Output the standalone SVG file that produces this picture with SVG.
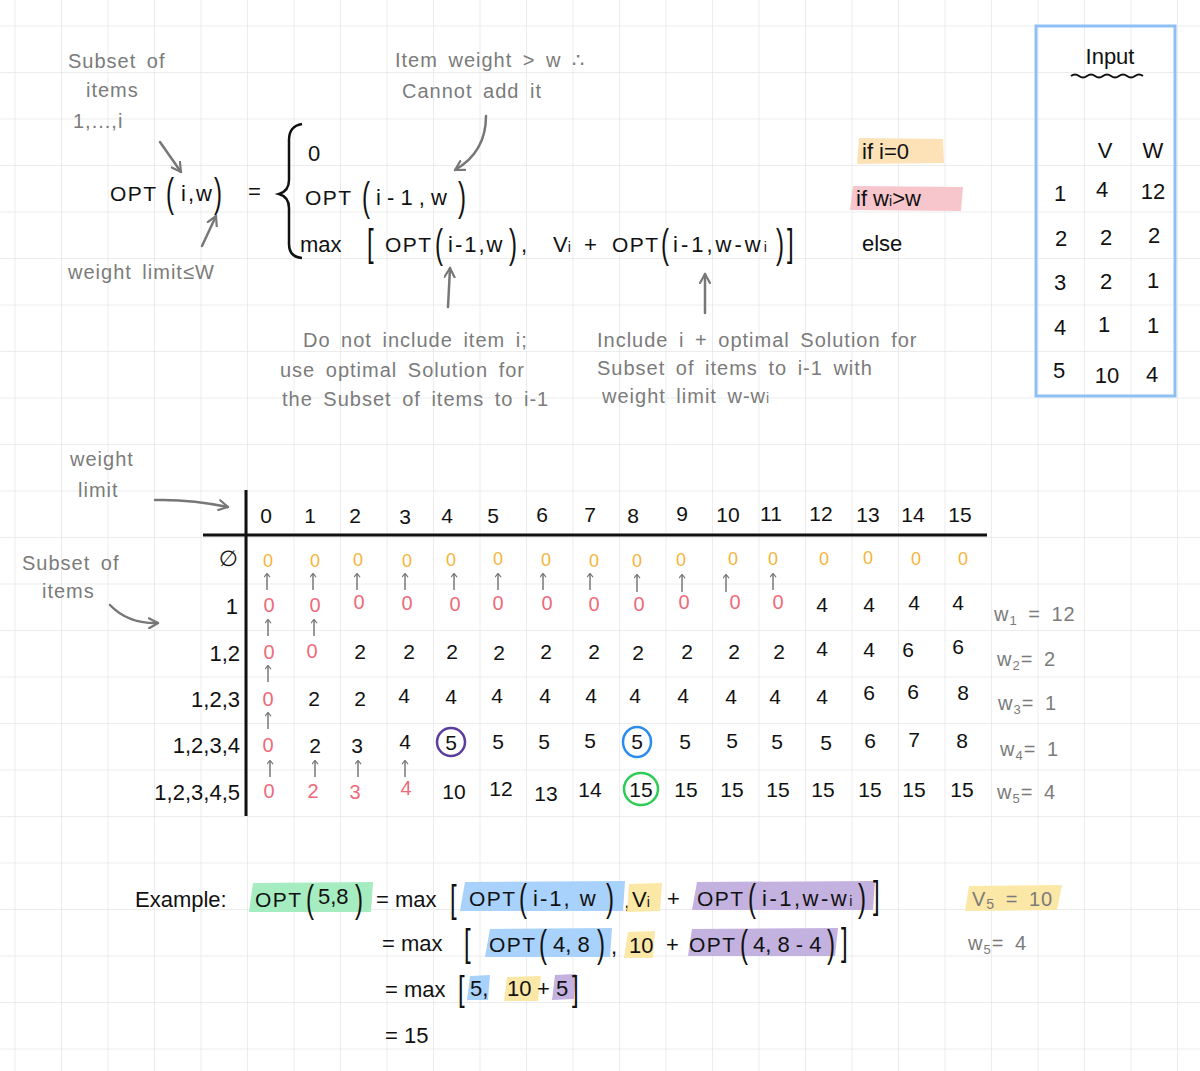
<svg xmlns="http://www.w3.org/2000/svg" width="1200" height="1071" viewBox="0 0 1200 1071">
<defs>
<pattern id="grid" x="14.5" y="25.5" width="46.5" height="46.5" patternUnits="userSpaceOnUse">
<path d="M0,0 H46.5 M0,0 V46.5" stroke="#e6e6e6" stroke-width="1.5" fill="none"/>
</pattern>
<marker id="ah" viewBox="0 0 12 12" refX="10" refY="6" markerWidth="12" markerHeight="12" markerUnits="userSpaceOnUse" orient="auto">
<path d="M1,1 L10,6 L1,11" fill="none" stroke="#777" stroke-width="2.2" stroke-linecap="round" stroke-linejoin="round"/>
</marker>
<marker id="sh" viewBox="0 0 10 10" refX="5" refY="2" markerWidth="7" markerHeight="7" markerUnits="userSpaceOnUse" orient="0">
<path d="M1,6 L5,1 L9,6" fill="none" stroke="#777" stroke-width="1.6" stroke-linecap="round"/>
</marker>
<style>
text{font-family:"Liberation Sans","DejaVu Sans",sans-serif;}
.k{fill:#111;font-size:22px;}
.p{fill:#111;font-size:24px;}
.g{fill:#7b7b7b;font-size:20px;letter-spacing:1px;word-spacing:4px;}
.o{fill:#f5b43a;font-size:18px;text-anchor:middle;}
.r{fill:#ee6b7b;font-size:20px;text-anchor:middle;}
.n{fill:#111;font-size:21px;text-anchor:middle;}
.lab{fill:#111;font-size:22px;text-anchor:end;}
.arr{stroke:#777;stroke-width:2.5;fill:none;stroke-linecap:round;marker-end:url(#ah);}
.sa{stroke:#777;stroke-width:1.5;fill:none;marker-end:url(#sh);}
.opt{letter-spacing:1.5px;font-size:21px;}
.sp{letter-spacing:2px;}
</style>
</defs>
<rect width="1200" height="1071" fill="#fff"/>
<rect width="1200" height="1071" fill="url(#grid)"/>

<g id="formula">
<text class="k opt" x="110" y="201">OPT</text>
<text class="p" transform="translate(166,207) scale(1,1.7)">(</text>
<text class="k sp" x="181" y="201">i,w</text>
<text class="p" transform="translate(214,207) scale(1,1.7)">)</text>
<text class="k" x="248" y="199">=</text>
<path d="M302,124 Q289,126 289,140 L289,180 Q289,191 279,194 Q289,197 289,208 L289,244 Q289,257 302,258" stroke="#111" stroke-width="2.5" fill="none"/>
<text class="k" x="308" y="161">0</text>
<text class="k opt" x="305" y="205">OPT</text>
<text class="p" transform="translate(362,211) scale(1,1.7)">(</text>
<text class="k" x="376" y="205">i - 1 , w</text>
<text class="p" transform="translate(458,211) scale(1,1.7)">)</text>
<text class="k" x="300" y="252">max</text>
<text class="p" transform="translate(367,256) scale(1,1.6)">[</text>
<text class="k opt" x="385" y="252">OPT</text>
<text class="p" transform="translate(435,258) scale(1,1.7)">(</text>
<text class="k sp" x="448" y="252">i-1,w</text>
<text class="p" transform="translate(509,258) scale(1,1.7)">)</text>
<text class="k" x="521" y="252">,</text>
<text class="k" x="553" y="252">V<tspan font-size="14">i</tspan></text>
<text class="k" x="584" y="252">+</text>
<text class="k opt" x="612" y="252">OPT</text>
<text class="p" transform="translate(661,258) scale(1,1.7)">(</text>
<text class="k" x="673" y="252" letter-spacing="3">i-1,w-w<tspan font-size="14">i</tspan></text>
<text class="p" transform="translate(776,258) scale(1,1.7)">)</text>
<text class="p" transform="translate(787,256) scale(1,1.6)">]</text>
<polygon points="859,138 943,139 944,163 857,164" fill="#fde2b8"/>
<text class="k" x="862" y="159">if  i=0</text>
<polygon points="853,186 963,187 961,211 850,210" fill="#f7c5cc"/>
<text class="k" x="856" y="206">if w<tspan font-size="14">i</tspan>&gt;w</text>
<text class="k" x="862" y="251">else</text>
</g>

<g id="annotations">
<text class="g" x="68" y="68">Subset of</text>
<text class="g" x="86" y="97">items</text>
<text class="g" x="73" y="128">1,...,i</text>
<text class="g" x="68" y="279">weight  limit≤W</text>
<text class="g" x="395" y="67">Item weight &gt; w ∴</text>
<text class="g" x="402" y="98">Cannot  add it</text>
<text class="g" x="303" y="347">Do not include item i;</text>
<text class="g" x="280" y="377">use optimal Solution for</text>
<text class="g" x="282" y="406">the Subset of items to i-1</text>
<text class="g" x="597" y="347">Include i  +  optimal  Solution  for</text>
<text class="g" x="597" y="375">Subset of  items  to  i-1  with</text>
<text class="g" x="602" y="403">weight limit  w-w<tspan font-size="14">i</tspan></text>
<text class="g" x="70" y="466">weight</text>
<text class="g" x="78" y="497">limit</text>
<text class="g" x="22" y="570">Subset of</text>
<text class="g" x="42" y="598">items</text>
</g>

<g id="connectors">
<path class="arr" d="M160,142 L181,172"/>
<path class="arr" d="M202,246 L216,216"/>
<path class="arr" d="M486,116 Q486,152 455,170"/>
<path class="arr" d="M448,307 L450,268"/>
<path class="arr" d="M705,313 L705,274"/>
<path class="arr" d="M155,500 Q190,499 228,507"/>
<path class="arr" d="M110,605 Q128,624 158,623"/>
<g id="table-arrows">
<path class="sa" d="M267,590 V574"/><path class="sa" d="M313,590 V574"/><path class="sa" d="M357,590 V574"/><path class="sa" d="M405,590 V574"/><path class="sa" d="M454,590 V574"/><path class="sa" d="M498,590 V574"/><path class="sa" d="M543,590 V574"/><path class="sa" d="M590,590 V574"/><path class="sa" d="M637,592 V575"/><path class="sa" d="M682,592 V575"/><path class="sa" d="M726,592 V575"/><path class="sa" d="M773,590 V574"/>
<path class="sa" d="M268,636 V620"/><path class="sa" d="M314,636 V620"/>
<path class="sa" d="M268,682 V666"/>
<path class="sa" d="M268,729 V713"/>
<path class="sa" d="M270,777 V761"/><path class="sa" d="M315,777 V761"/><path class="sa" d="M358,777 V761"/><path class="sa" d="M405,777 V761"/>
</g>
</g>

<g id="table">
<path d="M246,490 V816 M203,535 H987" stroke="#111" stroke-width="3" fill="none"/>
<g id="header">
<text class="n" x="266" y="523">0</text><text class="n" x="310" y="523">1</text><text class="n" x="355" y="523">2</text><text class="n" x="405" y="524">3</text><text class="n" x="447" y="523">4</text><text class="n" x="493" y="523">5</text><text class="n" x="542" y="522">6</text><text class="n" x="590" y="522">7</text><text class="n" x="633" y="523">8</text><text class="n" x="682" y="521">9</text><text class="n" x="728" y="522">10</text><text class="n" x="771" y="521">11</text><text class="n" x="821" y="521">12</text><text class="n" x="868" y="522">13</text><text class="n" x="913" y="522">14</text><text class="n" x="960" y="522">15</text>
</g>
<g id="row-labels">
<text class="lab" x="238" y="566">∅</text>
<text class="lab" x="238" y="614">1</text>
<text class="lab" x="240" y="661">1,2</text>
<text class="lab" x="240" y="707">1,2,3</text>
<text class="lab" x="240" y="753">1,2,3,4</text>
<text class="lab" x="240" y="800">1,2,3,4,5</text>
</g>
<g id="row0">
<text class="o" x="268" y="567">0</text><text class="o" x="315" y="567">0</text><text class="o" x="358" y="566">0</text><text class="o" x="407" y="567">0</text><text class="o" x="451" y="566">0</text><text class="o" x="498" y="565">0</text><text class="o" x="546" y="566">0</text><text class="o" x="594" y="567">0</text><text class="o" x="637" y="567">0</text><text class="o" x="681" y="566">0</text><text class="o" x="733" y="565">0</text><text class="o" x="773" y="565">0</text><text class="o" x="824" y="565">0</text><text class="o" x="868" y="564">0</text><text class="o" x="916" y="565">0</text><text class="o" x="963" y="565">0</text>
</g>
<g id="row1">
<text class="r" x="269" y="612">0</text><text class="r" x="315" y="612">0</text><text class="r" x="359" y="609">0</text><text class="r" x="407" y="610">0</text><text class="r" x="455" y="611">0</text><text class="r" x="498" y="610">0</text><text class="r" x="547" y="610">0</text><text class="r" x="594" y="611">0</text><text class="r" x="639" y="611">0</text><text class="r" x="684" y="609">0</text><text class="r" x="735" y="609">0</text><text class="r" x="778" y="609">0</text>
<text class="n" x="822" y="612">4</text><text class="n" x="869" y="612">4</text><text class="n" x="914" y="610">4</text><text class="n" x="958" y="610">4</text>
</g>
<g id="row2">
<text class="r" x="269" y="659">0</text><text class="r" x="312" y="658">0</text>
<text class="n" x="360" y="659">2</text><text class="n" x="409" y="659">2</text><text class="n" x="452" y="659">2</text><text class="n" x="499" y="660">2</text><text class="n" x="546" y="659">2</text><text class="n" x="594" y="659">2</text><text class="n" x="638" y="660">2</text><text class="n" x="687" y="659">2</text><text class="n" x="734" y="659">2</text><text class="n" x="779" y="659">2</text><text class="n" x="822" y="656">4</text><text class="n" x="869" y="657">4</text><text class="n" x="908" y="657">6</text><text class="n" x="958" y="654">6</text>
</g>
<g id="row3">
<text class="r" x="268" y="706">0</text>
<text class="n" x="314" y="706">2</text><text class="n" x="360" y="706">2</text><text class="n" x="404" y="703">4</text><text class="n" x="451" y="704">4</text><text class="n" x="497" y="703">4</text><text class="n" x="545" y="703">4</text><text class="n" x="591" y="703">4</text><text class="n" x="635" y="703">4</text><text class="n" x="683" y="703">4</text><text class="n" x="731" y="704">4</text><text class="n" x="775" y="704">4</text><text class="n" x="822" y="704">4</text><text class="n" x="869" y="700">6</text><text class="n" x="913" y="699">6</text><text class="n" x="963" y="700">8</text>
</g>
<g id="row4">
<text class="r" x="268" y="752">0</text>
<text class="n" x="315" y="753">2</text><text class="n" x="357" y="753">3</text><text class="n" x="405" y="749">4</text><text class="n" x="451" y="750">5</text><text class="n" x="498" y="749">5</text><text class="n" x="544" y="749">5</text><text class="n" x="590" y="748">5</text><text class="n" x="637" y="749">5</text><text class="n" x="685" y="749">5</text><text class="n" x="732" y="748">5</text><text class="n" x="777" y="749">5</text><text class="n" x="826" y="750">5</text><text class="n" x="870" y="748">6</text><text class="n" x="914" y="747">7</text><text class="n" x="962" y="748">8</text>
<ellipse cx="451" cy="742" rx="14" ry="14" fill="none" stroke="#5a3d9e" stroke-width="2.5"/>
<ellipse cx="637" cy="742" rx="14" ry="15" fill="none" stroke="#2b8cee" stroke-width="2.5"/>
</g>
<g id="row5">
<text class="r" x="269" y="798">0</text><text class="r" x="313" y="798">2</text><text class="r" x="355" y="799">3</text><text class="r" x="406" y="795">4</text>
<text class="n" x="454" y="799">10</text><text class="n" x="501" y="796">12</text><text class="n" x="546" y="801">13</text><text class="n" x="590" y="797">14</text><text class="n" x="641" y="797">15</text><text class="n" x="686" y="797">15</text><text class="n" x="732" y="797">15</text><text class="n" x="778" y="797">15</text><text class="n" x="823" y="797">15</text><text class="n" x="870" y="797">15</text><text class="n" x="914" y="797">15</text><text class="n" x="962" y="797">15</text>
<ellipse cx="641" cy="789" rx="17" ry="16" fill="none" stroke="#2ecc55" stroke-width="2.5"/>
</g>
<g id="weights">
<text class="g" x="994" y="621">w<tspan font-size="13" dy="4">1</tspan><tspan dy="-4"> = 12</tspan></text>
<text class="g" x="997" y="666">w<tspan font-size="13" dy="4">2</tspan><tspan dy="-4">=  2</tspan></text>
<text class="g" x="998" y="710">w<tspan font-size="13" dy="4">3</tspan><tspan dy="-4">=  1</tspan></text>
<text class="g" x="1000" y="756">w<tspan font-size="13" dy="4">4</tspan><tspan dy="-4">=  1</tspan></text>
<text class="g" x="997" y="799">w<tspan font-size="13" dy="4">5</tspan><tspan dy="-4">=  4</tspan></text>
</g>
</g>

<g id="input">
<rect x="1036" y="26" width="139" height="370" fill="none" stroke="#8ec0f5" stroke-width="3"/>
<text class="k" x="1110" y="64" text-anchor="middle" font-size="20">Input</text>
<path d="M1071,76 q4,-3 8,0 t8,0 t8,0 t8,0 t8,0 t8,0 t8,0 t8,0 t8,0" stroke="#111" stroke-width="2" fill="none"/>
<g text-anchor="middle" class="k">
<text x="1105" y="158">V</text><text x="1153" y="158">W</text>
<text x="1060" y="201">1</text><text x="1102" y="197">4</text><text x="1153" y="199">12</text>
<text x="1061" y="246">2</text><text x="1106" y="245">2</text><text x="1154" y="243">2</text>
<text x="1060" y="290">3</text><text x="1106" y="289">2</text><text x="1153" y="288">1</text>
<text x="1060" y="335">4</text><text x="1104" y="332">1</text><text x="1153" y="333">1</text>
<text x="1059" y="378">5</text><text x="1107" y="383">10</text><text x="1152" y="382">4</text>
</g>
</g>

<g id="example">
<text class="k" x="135" y="907">Example:</text>
<polygon points="253,883 373,882 371,912 249,912" fill="#a6ecc1"/>
<text class="k opt" x="255" y="907">OPT</text>
<text class="p" transform="translate(306,912) scale(1,1.6)">(</text>
<text class="k" x="318" y="904">5,8</text>
<text class="p" transform="translate(355,912) scale(1,1.6)">)</text>
<text class="k" x="376" y="907">= max</text>
<text class="p" transform="translate(450,912) scale(1,1.6)">[</text>
<polygon points="465,882 625,881 623,911 460,911" fill="#a8d2fb"/>
<text class="k opt" x="469" y="906">OPT</text>
<text class="p" transform="translate(519,911) scale(1,1.6)">(</text>
<text class="k" x="533" y="906" letter-spacing="2">i-1, w</text>
<text class="p" transform="translate(606,911) scale(1,1.6)">)</text>
<text class="k" x="624" y="908">,</text>
<polygon points="629,884 662,883 660,911 627,912" fill="#fbe7a6"/>
<text class="k" x="632" y="907">V<tspan font-size="14">i</tspan></text>
<text class="k" x="667" y="906">+</text>
<polygon points="697,882 875,881 873,910 692,910" fill="#c3b1e0"/>
<text class="k opt" x="697" y="906">OPT</text>
<text class="p" transform="translate(748,911) scale(1,1.6)">(</text>
<text class="k" x="762" y="906" letter-spacing="2.5">i-1,w-w<tspan font-size="14">i</tspan></text>
<text class="p" transform="translate(858,911) scale(1,1.6)">)</text>
<text class="p" transform="translate(873,908) scale(1,1.6)">]</text>

<text class="k" x="382" y="951">= max</text>
<text class="p" transform="translate(464,956) scale(1,1.6)">[</text>
<polygon points="490,929 612,928 610,957 485,957" fill="#a8d2fb"/>
<text class="k opt" x="489" y="952">OPT</text>
<text class="p" transform="translate(539,957) scale(1,1.6)">(</text>
<text class="k" x="553" y="952">4, 8</text>
<text class="p" transform="translate(597,957) scale(1,1.6)">)</text>
<text class="k" x="611" y="954">,</text>
<polygon points="628,932 655,931 653,958 624,958" fill="#fbe7a6"/>
<text class="k" x="629" y="953">10</text>
<text class="k" x="666" y="952">+</text>
<polygon points="692,929 838,928 835,956 688,956" fill="#c3b1e0"/>
<text class="k opt" x="689" y="952">OPT</text>
<text class="p" transform="translate(740,957) scale(1,1.6)">(</text>
<text class="k" x="753" y="952">4, 8 - 4</text>
<text class="p" transform="translate(827,957) scale(1,1.6)">)</text>
<text class="p" transform="translate(841,955) scale(1,1.6)">]</text>

<text class="k" x="385" y="997">= max</text>
<text class="p" transform="translate(458,1001) scale(1,1.5)">[</text>
<polygon points="470,976 490,975 488,1000 467,1000" fill="#a8d2fb"/>
<text class="k" x="470" y="996">5,</text>
<polygon points="507,977 541,976 538,1001 504,1001" fill="#fbe7a6"/>
<text class="k" x="507" y="996">10</text>
<text class="k" x="537" y="996">+</text>
<polygon points="555,975 576,974 574,999 552,1000" fill="#c3b1e0"/>
<text class="k" x="556" y="996">5</text>
<text class="p" transform="translate(572,1001) scale(1,1.5)">]</text>

<text class="k" x="385" y="1043">= 15</text>

<polygon points="969,886 1062,885 1057,910 965,911" fill="#fbe7a6"/>
<text class="g" x="972" y="906">V<tspan font-size="14" dy="3">5</tspan><tspan dy="-3"> = 10</tspan></text>
<text class="g" x="968" y="950">w<tspan font-size="13" dy="4">5</tspan><tspan dy="-4">= 4</tspan></text>
</g>
</svg>
